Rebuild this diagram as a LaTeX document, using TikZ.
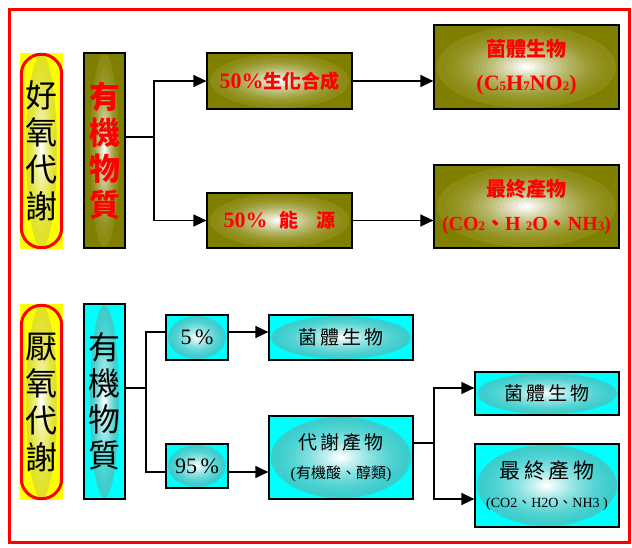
\documentclass[tikz,border=0pt]{standalone}
\usepackage{fontspec}
\setmainfont{Liberation Serif}
\newfontfamily\cjk{Noto Sans CJK TC}
\usetikzlibrary{arrows.meta,calc}

\definecolor{ol}{RGB}{128,128,0}
\definecolor{olE}{RGB}{140,140,20}
\definecolor{cy}{RGB}{0,255,255}
\definecolor{cyE}{RGB}{60,205,205}
\definecolor{ye}{RGB}{255,255,0}
\definecolor{yeE}{RGB}{225,225,40}
\definecolor{rd}{RGB}{255,0,0}

% concentric-ring glow: #1 outer colour, #2 horizontal inset
\tikzset{
  glow/.style 2 args={path picture={
    \path let \p1=(path picture bounding box.north east), \p2=(path picture bounding box.center),
      \n1={\x1-\x2-#2}, \n2={\y1-\y2-1pt} in \pgfextra{\xdef\glowrx{\n1}\xdef\glowry{\n2}};
    \foreach \k in {0,...,19}{
      \pgfmathsetmacro\glowr{1-\k/20}
      \pgfmathtruncatemacro\glowp{100*(\k/19)^1.6}
      \fill[white!\glowp!#1] (path picture bounding box.center) ellipse [x radius={\glowr*\glowrx*1pt}, y radius={\glowr*\glowry*1pt}];
    }}},
  gbox/.style={draw=black, line width=1.2pt, inner sep=0pt, align=center},
  obox/.style={gbox, fill=ol, glow={olE}{3pt}, text=rd},
  cbox/.style={gbox, fill=cy, glow={cyE}{2pt}, text=black},
  capbg/.style={fill=ye, inner sep=0pt, align=center, minimum width=43pt, minimum height=196pt, glow={yeE}{6pt}},
  capline/.style={draw=rd, line width=3pt, rounded corners=20pt},
  conn/.style={draw=black, line width=1.3pt},
  arr/.style={conn, -{Triangle[length=13pt,width=12pt]}},
  vfont/.style={font=\cjk\fontsize{32}{37}\selectfont},
}

\begin{document}
\begin{tikzpicture}[x=1pt,y=-1pt]
\useasboundingbox (0,0) rectangle (632,548);
\fill[white] (0,0) rectangle (632,548);
\draw[rd, line width=3pt] (9.5,9.5) rectangle (629.5,542.5);

% ---------- top: aerobic ----------
\node[capbg, vfont] (capA) at (41.5,151) {好\\氧\\代\\謝};
\draw[capline] ([xshift=1.5pt,yshift=-1.5pt]capA.north west) rectangle ([xshift=-1.5pt,yshift=1.5pt]capA.south east);
\node[obox, glow={olE}{6pt}, minimum width=41pt, minimum height=195pt, font=\cjk\bfseries\fontsize{31}{36}\selectfont] (orgA) at (104.5,150.5) {有\\機\\物\\質};

\node[obox, minimum width=145pt, minimum height=56pt, font=\bfseries\fontsize{22}{26}\selectfont] (bioA) at (279.5,81) {50\%{\cjk\fontsize{19}{22}\selectfont 生化合成}};
\node[obox, minimum width=145pt, minimum height=55pt, font=\bfseries\fontsize{22}{26}\selectfont] (enA) at (279.5,220.5) {50\%\hspace{12pt}{\cjk\fontsize{19}{22}\selectfont 能\hspace{18pt}源}};

\node[obox, minimum width=185pt, minimum height=84pt, font=\bfseries\fontsize{22}{34}\selectfont] (cellA) at (526.5,67) {{\cjk\fontsize{20}{34}\selectfont 菌體生物}\\(C{\fontsize{13}{13}\selectfont 5}H{\fontsize{13}{13}\selectfont 7}NO{\fontsize{13}{13}\selectfont 2})};
\node[obox, minimum width=185pt, minimum height=83pt, font=\bfseries\fontsize{20}{34}\selectfont] (endA) at (526.5,206.5) {{\cjk\fontsize{20}{34}\selectfont 最終產物}\\(CO{\fontsize{13}{13}\selectfont 2}{\cjk 、}H {\fontsize{13}{13}\selectfont 2}O{\cjk 、}NH{\fontsize{13}{13}\selectfont 3})};

\coordinate (jA) at (154,137);
\draw[conn] (orgA.east |- jA) -- (jA);
\draw[arr] (jA) |- (bioA.west);
\draw[arr] (jA) |- (enA.west);
\draw[arr] (bioA.east) -- (bioA.east -| cellA.west);
\draw[arr] (enA.east) -- (enA.east -| endA.west);

% ---------- bottom: anaerobic ----------
\node[capbg, vfont] (capB) at (41.5,402) {厭\\氧\\代\\謝};
\draw[capline] ([xshift=1.5pt,yshift=-1.5pt]capB.north west) rectangle ([xshift=-1.5pt,yshift=1.5pt]capB.south east);
\node[cbox, glow={cyE}{6pt}, minimum width=41pt, minimum height=195pt, font=\cjk\fontsize{32}{36}\selectfont] (orgB) at (104.5,401.5) {有\\機\\物\\質};

\node[cbox, minimum width=62pt, minimum height=45pt, font=\fontsize{22}{24}\selectfont] (p5) at (197,337.5) {5\,\%};
\node[cbox, minimum width=62pt, minimum height=44pt, font=\fontsize{22}{24}\selectfont] (p95) at (197,466) {95\,\%};

\node[cbox, minimum width=144pt, minimum height=45pt, font=\cjk\fontsize{19}{22}\selectfont] (cellB) at (341,337.5) {菌\,體\,生\,物};
\node[cbox, minimum width=144pt, minimum height=83pt, font=\cjk\fontsize{19}{29}\selectfont] (metB) at (341,457.5) {代\,謝\,產\,物\\{\rmfamily\fontsize{16}{16}\selectfont(}{\fontsize{15}{16}\selectfont 有機酸、醇類}{\rmfamily\fontsize{16}{16}\selectfont)}};

\node[cbox, minimum width=144pt, minimum height=43pt, font=\cjk\fontsize{19}{22}\selectfont] (cellC) at (547,393.5) {菌\,體\,生\,物};
\node[cbox, minimum width=144pt, minimum height=83pt, font=\cjk\fontsize{21}{29}\selectfont] (endC) at (547,485.5) {最\,終\,產\,物\\{\rmfamily\fontsize{14}{16}\selectfont (CO2{\cjk 、}H2O{\cjk 、}NH3 )}};

\coordinate (jB) at (146,388);
\coordinate (r5) at (0,332);
\coordinate (r95) at (0,472);
\draw[conn] (orgB.east |- jB) -- (jB);
\draw[conn] (jB) |- (p5.west |- r5);
\draw[conn] (jB) |- (p95.west |- r95);
\draw[arr] (p5.east |- r5) -- (cellB.west |- r5);
\draw[arr] (p95.east |- r95) -- (metB.west |- r95);

\coordinate (jC) at (434,443);
\coordinate (rc1) at (0,388);
\coordinate (rc2) at (0,499);
\draw[conn] (metB.east |- jC) -- (jC);
\draw[arr] (jC) |- (cellC.west |- rc1);
\draw[arr] (jC) |- (endC.west |- rc2);
\end{tikzpicture}
\end{document}
